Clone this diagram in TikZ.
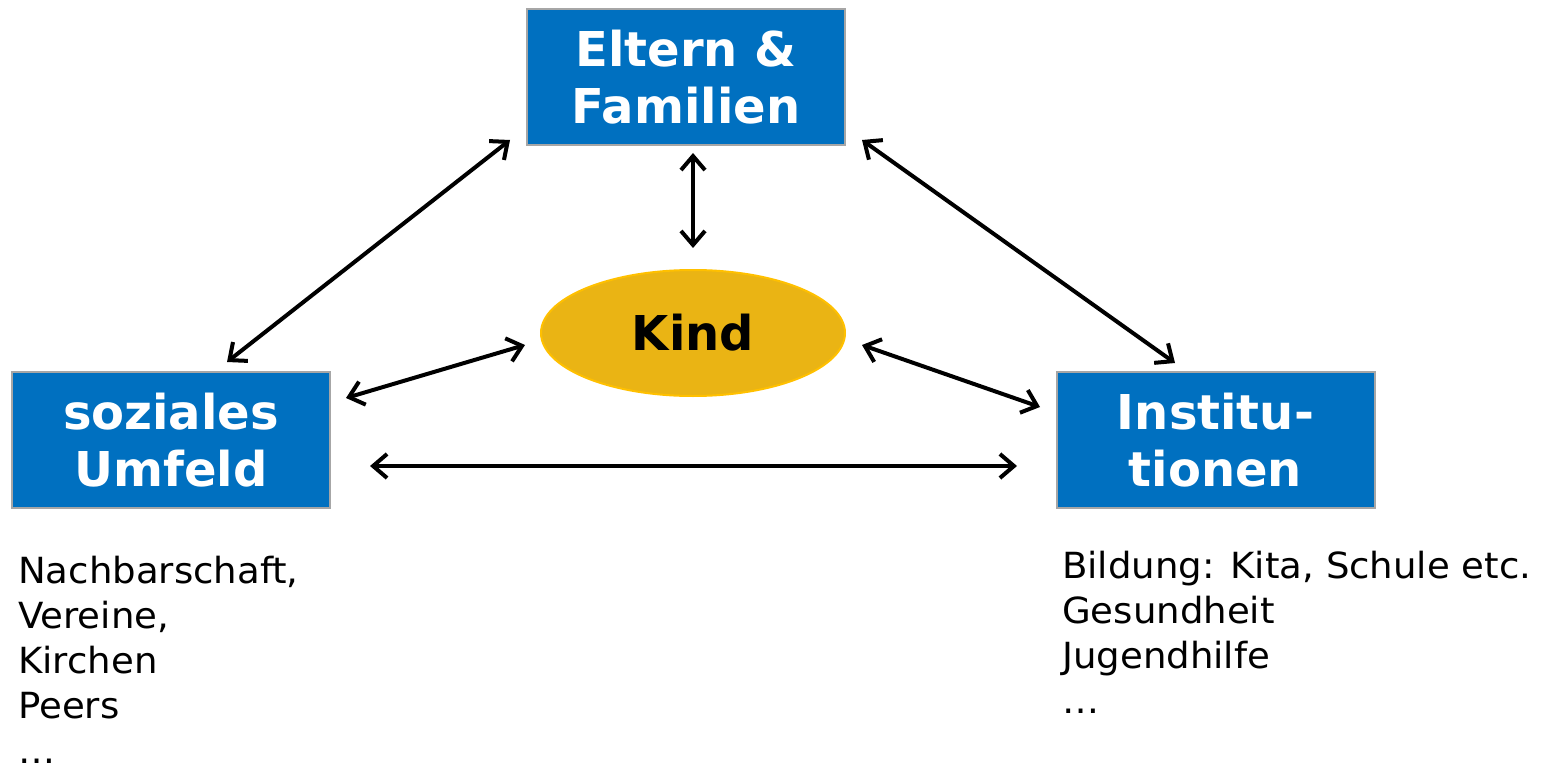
\documentclass[tikz,border=0pt]{standalone}
\usepackage{fontspec}
\setmainfont{DejaVu Sans}
\newfontfamily\listfont[FakeStretch=1.03]{DejaVu Sans}
\usetikzlibrary{arrows.meta,shapes.geometric}
\definecolor{boxblue}{HTML}{0070C0}
\definecolor{boxedge}{HTML}{A6A6A6}
\definecolor{kindfill}{HTML}{EAB414}
\definecolor{kindedge}{HTML}{FFC000}
\tikzset{
  bluebox/.style={draw=boxedge, line width=2pt, fill=boxblue, text=white,
    minimum width=318pt, minimum height=136pt, inner sep=0pt, align=center,
    font=\fontsize{48}{57}\selectfont\bfseries},
  kindnode/.style={ellipse, draw=kindedge, line width=2pt, fill=kindfill,
    minimum width=304pt, minimum height=126pt, inner sep=0pt,
    font=\fontsize{48}{57}\selectfont\bfseries},
  listtext/.style={anchor=north west, align=left, inner sep=0pt,
    font=\listfont\fontsize{36}{45}\selectfont},
  link/.style={line width=4pt, line cap=round, line join=round,
    {Straight Barb[length=14pt,width=24pt]}-{Straight Barb[length=14pt,width=24pt]}}
}
\begin{document}
\begin{tikzpicture}[x=1pt,y=-1pt]
\useasboundingbox (0,0) rectangle (1546,767);
\node[bluebox] (eltern) at (686,77.5) {Eltern \&\\Familien};
\node[bluebox] (sozial) at (171,440) {soziales\\Umfeld};
\node[bluebox] (inst) at (1215.5,440) {Institu-\\tionen};
\node[kindnode] (kind) at (693,333) {Kind};
\node[listtext] (sozlist) at (18,555.5) {Nachbarschaft,\\Vereine,\\Kirchen\\Peers\\…};
\node[listtext] (instlist) at (1062,550.5) {Bildung: Kita, Schule etc.\\Gesundheit\\Jugendhilfe\\…};
% connector end points
\coordinate (e-l) at (510,140);
\coordinate (s-t) at (227,362);
\coordinate (e-b) at (693,153);
\coordinate (k-t) at (693,248);
\coordinate (e-r) at (862,140);
\coordinate (i-t) at (1175,363);
\coordinate (s-r) at (346,398);
\coordinate (k-l) at (525,345);
\coordinate (k-r) at (862,345);
\coordinate (i-l) at (1040,407);
\coordinate (s-h) at (370,466);
\coordinate (i-h) at (1017,466);
\draw[link] (e-l) -- (s-t);
\draw[link] (e-b) -- (k-t);
\draw[link] (e-r) -- (i-t);
\draw[link] (s-r) -- (k-l);
\draw[link] (k-r) -- (i-l);
\draw[link] (s-h) -- (i-h);
\end{tikzpicture}
\end{document}
